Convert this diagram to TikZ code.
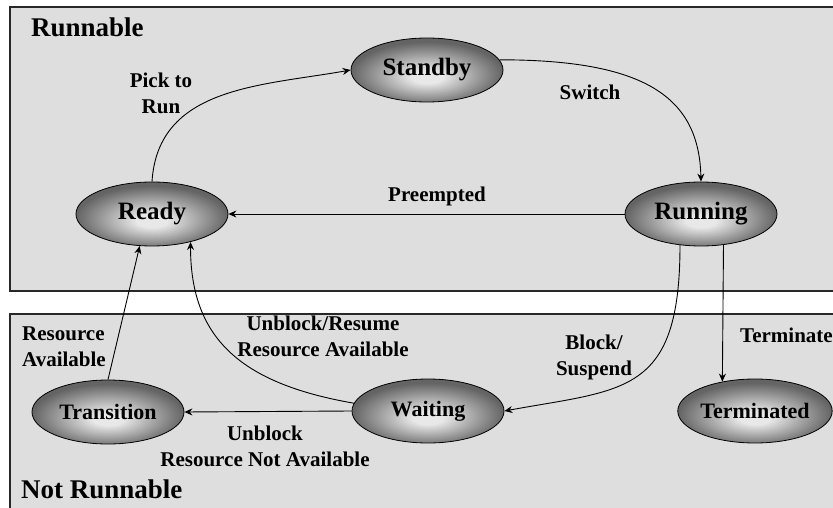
\documentclass[tikz,border=0pt]{standalone}
\usepackage{fontspec}
\setmainfont{Liberation Serif}
\usetikzlibrary{shapes.geometric,arrows.meta}

\definecolor{panelgray}{RGB}{222,222,222}
\definecolor{framegray}{RGB}{40,40,40}
\definecolor{statecore}{RGB}{232,232,232}
\definecolor{stateedge}{RGB}{100,100,100}

% radial fill of the state ellipses, lightest just below the middle
\pgfdeclareradialshading{stateshade}{\pgfpoint{0bp}{-6bp}}{%
  color(0bp)=(statecore); color(5bp)=(statecore);
  color(25bp)=(stateedge); color(50bp)=(stateedge)}

\tikzset{
  panel/.style={fill=panelgray, draw=framegray, line width=1.2pt},
  state/.style={ellipse, draw=black, line width=0.8pt, shade, shading=stateshade,
    minimum width=152pt, minimum height=64pt, inner sep=0pt,
    font=\bfseries\fontsize{25}{27}\selectfont},
  smallstate/.style={state, font=\bfseries\fontsize{22}{24}\selectfont},
  lbl/.style={font=\bfseries\fontsize{21}{26}\selectfont, align=center, inner sep=0pt},
  paneltitle/.style={font=\bfseries\fontsize{27}{30}\selectfont, inner sep=0pt, anchor=base west},
  flow/.style={line width=0.9pt, -{Stealth[length=8pt,width=7pt]}}
}

\begin{document}
\begin{tikzpicture}[x=1pt,y=1pt]
\useasboundingbox (0,0) rectangle (833,-508);
\fill[white] (0,0) rectangle (833,-508);

% the two regions
\draw[panel] (10,-7) rectangle (845,-291);
\draw[panel] (10,-314) rectangle (845,-520);
\node[paneltitle] (runnable) at (31,-37) {Runnable};
\node[paneltitle] (notrunnable) at (21,-498) {Not Runnable};

% states
\node[state] (standby) at (427,-70) {Standby};
\node[state] (ready) at (152,-214) {Ready};
\node[state] (running) at (701,-214) {Running};
\node[smallstate] (transition) at (108,-412) {Transition};
\node[smallstate] (waiting) at (428,-411) {Waiting};
\node[smallstate] (terminated) at (755,-411) {Terminated};

% transitions
\draw[flow] (ready.north) .. controls +(6,95) and +(-90,-16) .. (standby.west);
\draw[flow] (standby.8) .. controls +(145,0) and +(-2,85) .. (running.north);
\draw[flow] (running.west) -- (ready.east);
\draw[flow] (running.236) .. controls +(0,-150) and +(120,22) .. (waiting.east);
\draw[flow] (running.306) -- (terminated.138);
\draw[flow] (waiting.west) -- (transition.east);
\draw[flow] (waiting.174) .. controls +(-115,20) and +(0,-95) .. (ready.324);
\draw[flow] (transition.north) -- (ready.249);

% transition labels
\node[lbl] (lpick) at (161,-93) {Pick to\\Run};
\node[lbl] (lswitch) at (590,-92) {Switch};
\node[lbl] (lpre) at (437,-196) {Preempted};
\node[lbl] (lblock) at (594,-357) {Block/\\Suspend};
\node[lbl, anchor=west] (lterm) at (740,-335) {Terminate};
\node[lbl] (lresume) at (323,-336) {Unblock/Resume\\Resource Available};
\node[lbl, align=left, anchor=west] (lavail) at (22,-347) {Resource\\Available};
\node[lbl] (lnot) at (265,-446) {Unblock\\Resource Not Available};
\end{tikzpicture}
\end{document}
